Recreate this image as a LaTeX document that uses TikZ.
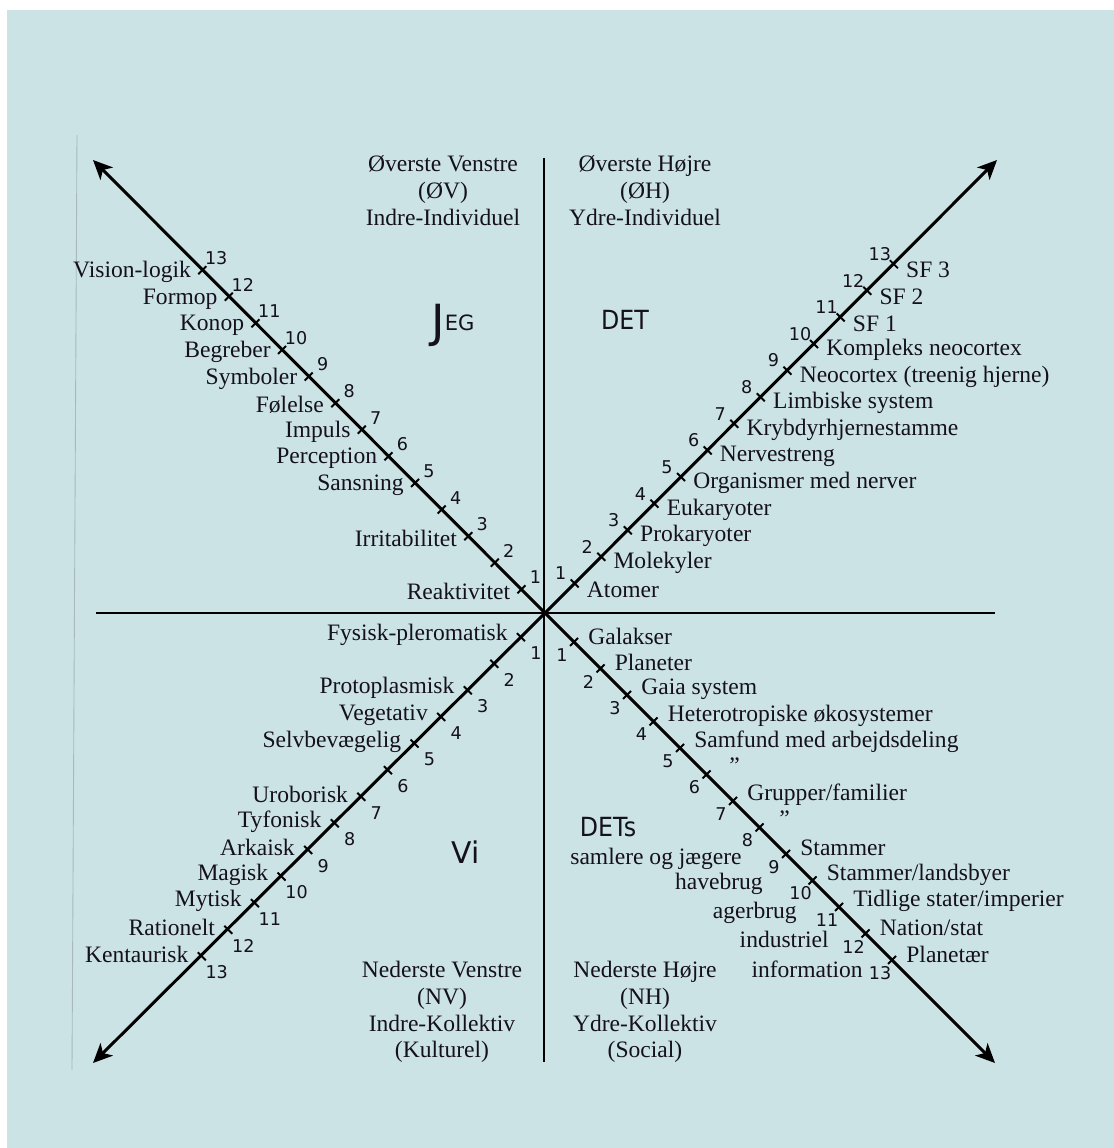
\documentclass[tikz,border=0pt]{standalone}
\usepackage{fontspec}
\setmainfont{Liberation Serif}
\setsansfont{DejaVu Sans}
\usepackage{tikz}
\usetikzlibrary{arrows.meta,calc}
\definecolor{paper}{RGB}{204,227,229}
\definecolor{ink}{RGB}{20,16,28}
\definecolor{pageedge}{RGB}{168,184,187}
\tikzset{
	diag/.style={line width=1.7pt, -{Stealth[length=11pt,width=10pt,inset=3pt]}},
	axisline/.style={line width=1.2pt},
	tickmark/.style={line width=1.1pt},
	lbl/.style={inner sep=0pt, text=ink, font=\fontsize{13.4}{15.3}\selectfont},
	quad/.style={lbl, align=center},
	num/.style={inner sep=0pt, text=ink, font=\sffamily\fontsize{10}{12}\selectfont},
	hand/.style={inner sep=0pt, text=ink, font=\sffamily},
}
\begin{document}
\begin{tikzpicture}[x=0.02cm,y=-0.02cm]
	\useasboundingbox (0,0) rectangle (1114,1148);
	\fill[white] (0,0) rectangle (1114,1148);
	\fill[paper] (7,10) rectangle (1114,1148);
	\draw[pageedge, line width=0.5pt] (77,135) -- (72,1070);
	% axes
	\coordinate (O) at (545,613);
	\coordinate (top) at (544,158);
	\coordinate (bottom) at (544,1062);
	\coordinate (left) at (96,613);
	\coordinate (right) at (995,613);
	\draw [axisline] (top) -- (bottom);
	\draw [axisline] (left) -- (right);
	\coordinate (ULtip) at (93,160);
	\coordinate (URtip) at (997,160);
	\coordinate (LLtip) at (93,1063);
	\coordinate (LRtip) at (995,1063);
	\draw [diag] (O) -- (ULtip);
	\draw [diag] (O) -- (URtip);
	\draw [diag] (O) -- (LLtip);
	\draw [diag] (O) -- (LRtip);
	% ticks and numbers
	\foreach \k in {1,...,13} {
		\coordinate (ul\k) at ({545-26.6*\k+3},{613-26.6*\k+3});
		\coordinate (ur\k) at ({545+26.6*\k+3},{613-26.6*\k-3});
		\coordinate (ll\k) at ({545-26.6*\k+2.5},{613+26.6*\k-2.5});
		\coordinate (lr\k) at ({545+26.5*\k+2.5},{613+26.5*\k+2.5});
		\draw [tickmark] ($(ul\k)+(-4,4)$) -- ($(ul\k)+(4,-4)$);
		\draw [tickmark] ($(ur\k)+(-4,-4)$) -- ($(ur\k)+(4,4)$);
		\draw [tickmark] ($(ll\k)+(-4,-4)$) -- ($(ll\k)+(4,4)$);
		\draw [tickmark] ($(lr\k)+(-4,4)$) -- ($(lr\k)+(4,-4)$);
		\node [num] (ulnum\k) at ($(ul\k)+(14,-12)$) {\k};
		\node [num] (urnum\k) at ($(ur\k)+(-14,-10)$) {\k};
		\node [num] (llnum\k) at ($(ll\k)+(15,16)$) {\k};
		\node [num] (lrnum\k) at ($(lr\k)+(-12,13)$) {\k};
	}
	% upper left
	\foreach \k/\txt in {1/Reaktivitet,3/Irritabilitet,5/Sansning,6/Perception,7/Impuls,8/Følelse,9/Symboler,10/Begreber,11/Konop,12/Formop,13/Vision-logik}
		\node [lbl, anchor=east] (ultxt\k) at ($(ul\k)+(-11,2)$) {\txt};
	% upper right
	\foreach \k/\txt in {1/Atomer,2/Molekyler,3/Prokaryoter,4/Eukaryoter,5/{Organismer med nerver},6/Nervestreng,7/Krybdyrhjernestamme,8/{Limbiske system},9/{Neocortex (treenig hjerne)},10/{Kompleks neocortex},11/{SF 1},12/{SF 2},13/{SF 3}}
		\node [lbl, anchor=west] (urtxt\k) at ($(ur\k)+(12,6)$) {\txt};
	% lower left
	\foreach \k/\txt in {1/Fysisk-pleromatisk,3/Protoplasmisk,4/Vegetativ,5/Selvbevægelig,7/Uroborisk,8/Tyfonisk,9/Arkaisk,10/Magisk,11/Mytisk,12/Rationelt,13/Kentaurisk}
		\node [lbl, anchor=east] (lltxt\k) at ($(ll\k)+(-13,-2)$) {\txt};
	% lower right
	\foreach \k/\txt in {1/Galakser,2/Planeter,3/{Gaia system},4/{Heterotropiske økosystemer},5/{Samfund med arbejdsdeling},7/{Grupper/familier},9/Stammer,10/{Stammer/landsbyer},11/{Tidlige stater/imperier},12/{Nation/stat},13/Planetær}
		\node [lbl, anchor=west] (lrtxt\k) at ($(lr\k)+(14,-6)$) {\txt};
	\node [lbl] (ditto6) at ($(lr6)+(28,-9)$) {''};
	\node [lbl] (ditto8) at ($(lr8)+(25,-9)$) {''};
	% ways of living
	\node [lbl, anchor=east] (samlere) at (742,859) {samlere og jægere};
	\node [lbl, anchor=east] (havebrug) at (763,884) {havebrug};
	\node [lbl, anchor=east] (agerbrug) at (797,913) {agerbrug};
	\node [lbl, anchor=east] (industriel) at (829,939) {industriel};
	\node [lbl, anchor=east] (information) at (863,969) {information};
	% quadrant titles
	\node [quad] (UL) at (443,191) {Øverste Venstre\\(ØV)\\Indre-Individuel};
	\node [quad] (UR) at (645,191) {Øverste Højre\\(ØH)\\Ydre-Individuel};
	\node [quad] (LL) at (442,1012) {Nederste Venstre\\(NV)\\Indre-Kollektiv\\(Kulturel)};
	\node [quad] (LR) at (645,1012) {Nederste Højre\\(NH)\\Ydre-Kollektiv\\(Social)};
	\node [hand] (jeg) at (453,325) {\raisebox{-4pt}{\fontsize{26}{26}\selectfont J}{\fontsize{12}{12}\selectfont EG}};
	\node [hand] (det) at (625,320) {\scalebox{0.9}[1]{\fontsize{15}{15}\selectfont DET}};
	\node [hand] (vi) at (466,852) {\fontsize{17}{17}\selectfont Vi};
	\node [hand] (dets) at (608,827) {\scalebox{0.9}[1]{\fontsize{15}{15}\selectfont DETs}};
\end{tikzpicture}
\end{document}
